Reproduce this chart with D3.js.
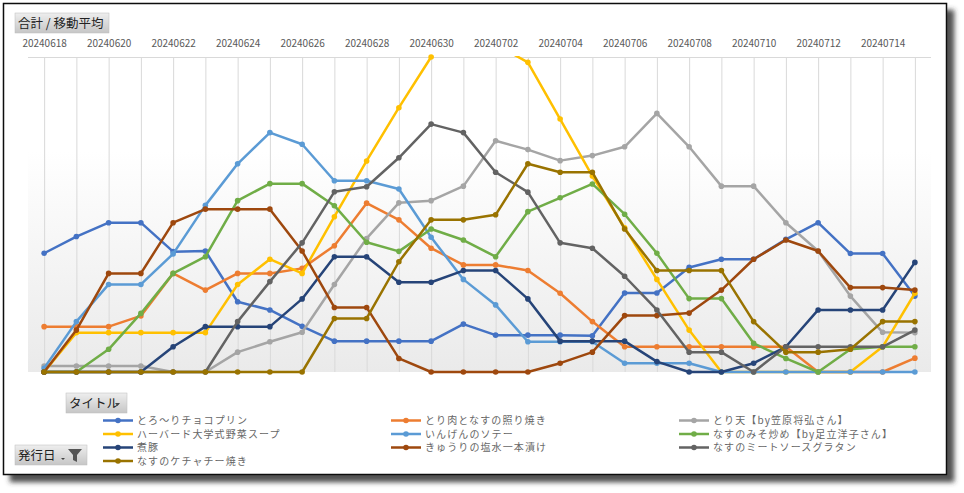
<!DOCTYPE html>
<html>
<head>
<meta charset="utf-8">
<script src="https://cdn.jsdelivr.net/npm/d3@7"></script>
<style>
  body { margin: 0; background: #fff; }
  svg { display: block; font-family: "Noto Sans CJK JP", "Noto Sans", sans-serif; }
</style>
</head>
<body>
<div id="chart"></div>
<script>
// dates on the category axis
var dates = ["20240618","20240619","20240620","20240621","20240622","20240623","20240624",
  "20240625","20240626","20240627","20240628","20240629","20240630","20240701",
  "20240702","20240703","20240704","20240705","20240706","20240707","20240708",
  "20240709","20240710","20240711","20240712","20240713","20240714","20240715"];

var names = ["とろ〜りチョコプリン", "とり肉となすの照り焼き", "とり天【by笠原将弘さん】",
  "ハーバード大学式野菜スープ", "いんげんのソテー", "なすのみそ炒め【by足立洋子さん】",
  "煮豚", "きゅうりの塩水一本漬け", "なすのミートソースグラタン", "なすのケチャチー焼き"];

var colors = ["#4472C4", "#ED7D31", "#A5A5A5", "#FFC000", "#5B9BD5",
  "#70AD47", "#264478", "#9E480E", "#636363", "#997300"];

// moving average values (axis max = 100)
var pudding = [37.7,43.0,47.4,47.4,38.2,38.4,22.3,19.7,14.5,9.8,9.8,9.8,9.8,15.2,
  11.7,11.7,11.7,11.5,25.1,25.1,33.2,35.8,35.8,42.1,47.4,37.6,37.6,24.1];
var chickenEggplant = [14.4,14.4,14.4,17.8,31.3,26.0,31.3,31.3,32.9,40.1,53.6,48.3,39.3,34.0,
  34.0,32.2,25.0,16.0,8.0,8.0,8.0,8.0,8.0,8.0,0,0,0,4.4];
var toriten = [1.9,1.9,1.9,1.9,0,0,6.3,9.6,12.6,27.8,42.4,53.7,54.4,59.0,
  73.4,70.6,67.1,68.7,71.5,82.1,71.5,59.0,59.0,47.4,38.4,24.1,12.6,12.5];
var soup = [0,12.5,12.5,12.5,12.5,12.5,27.8,35.8,31.3,49.3,67.0,83.9,100,111,
  104,98.3,80.3,62.2,45.8,29.4,13.3,0,0,0,0,0,8.0,25.0];
var greenBeans = [1.2,16.0,27.8,27.8,37.5,52.9,66.1,76.0,72.3,60.7,60.7,58.1,42.8,29.4,
  21.3,9.6,9.6,9.6,2.8,2.8,2.8,0,0,0,0,0,0,0];
var misoEggplant = [0,0,7.2,18.6,31.3,36.6,54.4,59.8,59.8,52.8,41.2,38.3,45.4,41.9,
  36.6,50.9,55.3,59.7,50.1,37.7,23.3,23.3,9.1,4.3,0,7.2,8.0,8.0];
var porkStew = [0,0,0,0,8.0,14.4,14.4,14.4,23.2,36.6,36.6,28.5,28.5,32.2,
  32.2,23.2,9.8,9.8,9.8,3.3,0,0,2.8,8.0,19.7,19.7,19.7,34.8];
var cucumber = [0,13.3,31.3,31.3,47.4,51.7,51.7,51.7,38.4,20.5,20.5,4.3,0,0,
  0,0,2.8,6.3,17.9,17.9,18.7,26.0,35.8,41.9,38.4,26.8,26.8,26.0];
var gratin = [0,0,0,0,0,0,16.0,28.7,41.0,57.2,58.8,68.0,78.7,76.0,
  63.4,57.1,41.0,39.3,30.4,19.7,6.3,6.3,0,8.0,8.0,8.0,8.0,13.3];
var ketchupEggplant = [0,0,0,0,0,0,0,0,0,17.0,17.0,35.0,48.3,48.3,
  49.9,66.1,63.4,63.4,45.4,32.2,32.2,32.2,16.0,6.3,6.3,7.2,16.0,16.0];

var seriesValues = [pudding, chickenEggplant, toriten, soup, greenBeans,
  misoEggplant, porkStew, cucumber, gratin, ketchupEggplant];

var yMax = 100;

var width = 964, height = 493;
var plot = {left: 28, right: 931, top: 57, bottom: 372};

var svg = d3.select("#chart").append("svg")
  .attr("width", width)
  .attr("height", height);

var defs = svg.append("defs");

var shadow = defs.append("filter").attr("id", "shadow")
  .attr("x", "-5%").attr("y", "-5%").attr("width", "112%").attr("height", "115%");
shadow.append("feDropShadow")
  .attr("dx", 7).attr("dy", 7).attr("stdDeviation", 2.5)
  .attr("flood-color", "#333").attr("flood-opacity", 0.85);

var bg = defs.append("linearGradient").attr("id", "plotbg")
  .attr("x1", 0).attr("y1", 0).attr("x2", 0).attr("y2", 1);
bg.append("stop").attr("offset", "0%").attr("stop-color", "#ffffff");
bg.append("stop").attr("offset", "30%").attr("stop-color", "#ffffff");
bg.append("stop").attr("offset", "100%").attr("stop-color", "#eaeaea");

var btn = defs.append("linearGradient").attr("id", "btn")
  .attr("x1", 0).attr("y1", 0).attr("x2", 0).attr("y2", 1);
btn.append("stop").attr("offset", "0%").attr("stop-color", "#eeeeee");
btn.append("stop").attr("offset", "100%").attr("stop-color", "#c6c6c6");

defs.append("clipPath").attr("id", "clip")
  .append("rect")
  .attr("x", plot.left).attr("y", plot.top - 1)
  .attr("width", plot.right - plot.left).attr("height", plot.bottom - plot.top + 6);

// chart frame with shadow
svg.append("rect")
  .attr("x", 3.5).attr("y", 3.5)
  .attr("width", 943).attr("height", 471)
  .attr("fill", "#fff")
  .attr("stroke", "#111")
  .attr("stroke-width", 1.5)
  .attr("filter", "url(#shadow)");

// plot area
svg.append("rect")
  .attr("x", plot.left).attr("y", plot.top)
  .attr("width", plot.right - plot.left).attr("height", plot.bottom - plot.top)
  .attr("fill", "url(#plotbg)");

var x = d3.scalePoint()
  .domain(dates)
  .range([plot.left, plot.right])
  .padding(0.5);

var y = d3.scaleLinear()
  .domain([0, yMax])
  .range([plot.bottom, plot.top]);

// vertical gridlines
var grid = svg.append("g")
  .attr("transform", "translate(0," + plot.bottom + ")")
  .call(d3.axisBottom(x).tickSize(-(plot.bottom - plot.top)).tickFormat(""));
grid.select(".domain").remove();
grid.selectAll(".tick line").attr("stroke", "#d9d9d9").attr("stroke-width", 1);

// top border line of plot
svg.append("line")
  .attr("x1", plot.left).attr("x2", plot.right)
  .attr("y1", plot.top + 0.5).attr("y2", plot.top + 0.5)
  .attr("stroke", "#d9d9d9");

// date labels on top
var xAxis = svg.append("g")
  .attr("transform", "translate(0,50)")
  .call(d3.axisTop(x)
    .tickValues(dates.filter(function(d, i) { return i % 2 == 0; }))
    .tickSize(0).tickPadding(3));
xAxis.select(".domain").remove();
xAxis.selectAll("text")
  .attr("fill", "#595959")
  .style("font-size", "10px")
  .style("font-family", "'Noto Sans CJK JP', 'Noto Sans', sans-serif");

// lines and markers
var line = d3.line()
  .x(function(d, i) { return x(dates[i]); })
  .y(function(d) { return y(d); });

seriesValues.forEach(function(vals, s) {
  svg.append("path")
    .datum(vals)
    .attr("clip-path", "url(#clip)")
    .attr("fill", "none")
    .attr("stroke", colors[s])
    .attr("stroke-width", 2.5)
    .attr("stroke-linejoin", "round")
    .attr("d", line);

  svg.append("g")
    .selectAll("circle")
    .data(vals.map(function(v, i) { return {v: v, i: i}; })
      .filter(function(d) { return d.v <= yMax; }))
    .enter()
    .append("circle")
      .attr("cx", function(d) { return x(dates[d.i]); })
      .attr("cy", function(d) { return y(d.v); })
      .attr("r", 2.8)
      .attr("fill", colors[s]);
});

// field buttons
function fieldButton(bx, by, bw, label) {
  var g = svg.append("g").attr("transform", "translate(" + bx + "," + by + ")");
  g.append("rect")
    .attr("width", bw).attr("height", 20)
    .attr("fill", "url(#btn)")
    .attr("stroke", "#bdbdbd").attr("stroke-width", 0.5);
  g.append("text")
    .attr("x", 3).attr("y", 15)
    .attr("fill", "#222")
    .style("font-size", "12.5px")
    .text(label);
  return g;
}

fieldButton(15, 13, 94, "合計 / 移動平均");

var titleBtn = fieldButton(66, 393, 61, "タイトル");
titleBtn.append("path")
  .attr("d", "M49,10 L54,10 L51.5,13 Z")
  .attr("fill", "#444");

var dateBtn = fieldButton(15, 445, 72, "発行日");
dateBtn.append("path")
  .attr("d", "M46,13 L50,13 L48,15 Z")
  .attr("fill", "#444");
dateBtn.append("path")
  .attr("d", "M53,4 L67,4 L62,10 L62,17 L58,15 L58,10 Z")
  .attr("fill", "#555");

// legend
var legendCols = [103, 391, 679];
var legendRows = [420.5, 434, 447.5, 461];

var legend = svg.append("g")
  .selectAll("g")
  .data(names)
  .enter()
  .append("g")
    .attr("transform", function(d, i) {
      return "translate(" + legendCols[i % 3] + "," + legendRows[Math.floor(i / 3)] + ")";
    });

legend.append("line")
  .attr("x1", 0).attr("x2", 30)
  .attr("stroke", function(d, i) { return colors[i]; })
  .attr("stroke-width", 2.5);
legend.append("circle")
  .attr("cx", 15).attr("r", 2.8)
  .attr("fill", function(d, i) { return colors[i]; });
legend.append("text")
  .attr("x", 34).attr("y", 3.5)
  .attr("fill", "#666")
  .style("font-size", "10px")
  .style("letter-spacing", "1.1px")
  .text(function(d) { return d; });
</script>
</body>
</html>
